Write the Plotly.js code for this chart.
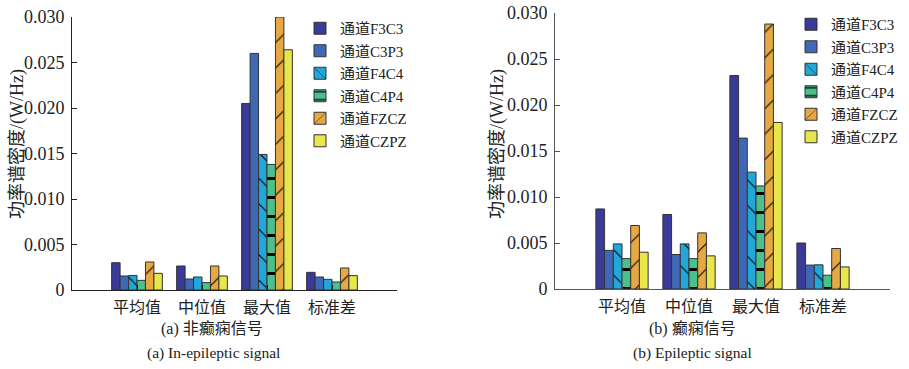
<!DOCTYPE html>
<html>
<head>
<meta charset="utf-8">
<script src="https://cdn.plot.ly/plotly-3.0.1.min.js"></script>
<style>html,body{margin:0;padding:0;background:#fff;}#chart{width:909px;height:369px;}</style>
</head>
<body>
<div id="chart"></div>
<script>
// ---- data ----
const categories = ['平均值', '中位值', '最大值', '标准差'];
const categoryIndex = [1, 2, 3, 4];
const channels = ['通道F3C3', '通道C3P3', '通道F4C4', '通道C4P4', '通道FZCZ', '通道CZPZ'];
const yTickVals = [0, 0.005, 0.010, 0.015, 0.020, 0.025, 0.030];
const yTickText = ['0', '0.005', '0.010', '0.015', '0.020', '0.025', '0.030'];

// (a) non-epileptic signal
const nonF3C3 = [0.0030, 0.00264, 0.0205, 0.00194];
const nonC3P3 = [0.00154, 0.00121, 0.0260, 0.00143];
const nonF4C4 = [0.0016, 0.00143, 0.0149, 0.00117];
const nonC4P4 = [0.00106, 0.00081, 0.0138, 0.00088];
const nonFZCZ = [0.00308, 0.00264, 0.0300, 0.00242];
const nonCZPZ = [0.00183, 0.00154, 0.0264, 0.00158];

// (b) epileptic signal
const epF3C3 = [0.0087, 0.0081, 0.0232, 0.0050];
const epC3P3 = [0.0042, 0.00375, 0.0164, 0.0026];
const epF4C4 = [0.0049, 0.0049, 0.0127, 0.00263];
const epC4P4 = [0.0033, 0.0033, 0.0112, 0.0015];
const epFZCZ = [0.0069, 0.0061, 0.0288, 0.0044];
const epCZPZ = [0.0040, 0.0036, 0.0181, 0.0024];

// ---- styles ----
const colors = ['#3a3a99', '#3f69b6', '#23a6d8', '#4cc08a', '#e6a843', '#e8e64a'];
const patterns = ['', '', '\\', '-', '/', ''];
const nonSeries = [nonF3C3, nonC3P3, nonF4C4, nonC4P4, nonFZCZ, nonCZPZ];
const epSeries = [epF3C3, epC3P3, epF4C4, epC4P4, epFZCZ, epCZPZ];

function makeTrace(name, vals, i, xa, ya, legend) {
  const marker = {color: colors[i], line: {color: '#333333', width: 1}};
  if (patterns[i]) {
    marker.pattern = {shape: patterns[i], fgcolor: '#000000', bgcolor: colors[i],
      size: patterns[i] === '-' ? 19 : 18, solidity: patterns[i] === '-' ? 0.16 : 0.06};
  }
  return {type: 'bar', name: name, x: categoryIndex, y: vals, xaxis: xa, yaxis: ya,
    legend: legend, marker: marker, hoverinfo: 'skip'};
}

const traces = [];
channels.forEach((c, i) => traces.push(makeTrace(c, nonSeries[i], i, 'x', 'y', 'legend')));
channels.forEach((c, i) => traces.push(makeTrace(c, epSeries[i], i, 'x2', 'y2', 'legend2')));

const serif = "'Liberation Serif', 'Times New Roman', 'Noto Sans CJK SC', serif";
const W = 909, H = 369;
function xAxis(d0, d1, anchor, lineColor) {
  return {domain: [d0 / W, d1 / W], anchor: anchor, range: [0, 5],
    tickvals: [0, 1, 2, 3, 4, 5], ticktext: [''].concat(categories, ['']),
    ticks: 'inside', ticklen: 5, tickcolor: lineColor, showline: true, linecolor: lineColor,
    linewidth: 1, showgrid: false, zeroline: false, fixedrange: true, ticklabelstandoff: 3,
    tickfont: {family: serif, size: 16, color: '#222'}};
}
function yAxis(top, bottom, anchor, lineColor) {
  return {domain: [(H - bottom) / H, (H - top) / H], anchor: anchor, range: [0, 0.030],
    tickvals: yTickVals, ticktext: yTickText, ticks: 'inside', ticklen: 5, tickcolor: lineColor,
    showline: true, linecolor: lineColor, linewidth: 1, showgrid: false, zeroline: false,
    fixedrange: true, ticklabelstandoff: 3,
    tickfont: {family: serif, size: 18, color: '#222'}};
}
function note(text, x, y, size, angle) {
  return {text: text, xref: 'paper', yref: 'paper', x: x / W, y: 1 - y / H,
    xanchor: 'center', yanchor: 'middle', textangle: angle || 0, showarrow: false,
    font: {family: serif, size: size, color: '#222'}};
}

const layout = {
  width: W, height: H, margin: {l: 0, r: 0, t: 0, b: 0},
  paper_bgcolor: '#fff', plot_bgcolor: '#fff',
  barmode: 'group', bargap: 0.22, bargroupgap: 0,
  font: {family: serif, color: '#222'},
  xaxis: xAxis(72, 397, 'y', '#222'),
  yaxis: yAxis(17, 290, 'x', '#222'),
  xaxis2: xAxis(555, 890, 'y2', '#555'),
  yaxis2: yAxis(13, 289, 'x2', '#555'),
  legend: {x: 300 / W, y: 1 - 12 / H, xanchor: 'left', yanchor: 'top', bgcolor: 'rgba(0,0,0,0)',
    font: {family: serif, size: 15, color: '#222'}, tracegroupgap: 0, itemwidth: 30},
  legend2: {x: 791 / W, y: 1 - 8 / H, xanchor: 'left', yanchor: 'top', bgcolor: 'rgba(0,0,0,0)',
    font: {family: serif, size: 15, color: '#222'}, tracegroupgap: 0, itemwidth: 30},
  annotations: [
    note('功率谱密度/(W/Hz)', 17, 144, 18, -90),
    note('功率谱密度/(W/Hz)', 497, 144, 18, -90),
    note('(a) 非癫痫信号', 212, 329, 16),
    note('(a) In-epileptic signal', 213, 353, 15.5),
    note('(b) 癫痫信号', 692, 329, 16),
    note('(b) Epileptic signal', 692, 353, 15.5)
  ]
};

Plotly.newPlot('chart', traces, layout, {staticPlot: true, displayModeBar: false});
</script>
</body>
</html>
